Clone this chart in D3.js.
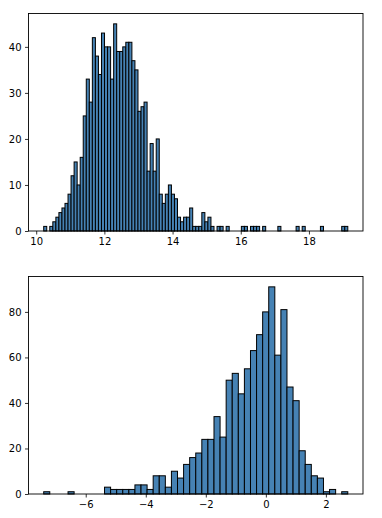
<!DOCTYPE html>
<html>
<head>
<meta charset="utf-8">
<script src="https://cdn.jsdelivr.net/npm/d3@7"></script>
<style>
  html, body { margin: 0; padding: 0; background: #fff; }
  svg { display: block; }
  .tick text { font-family: "DejaVu Sans", sans-serif; font-size: 10px; fill: #000; }
</style>
</head>
<body>
<svg id="chart" width="382" height="518"></svg>
<script>
// ---- Data ----
const topRange = [10.22, 19.14];          // histogram data range (100 bins)
const topCounts = [
  1,0,1,2,3,4,5,6,8,12,
  15,10,16,25,33,28,42,38,34,43,
  40,40,33,45,39,39,40,41,41,37,
  35,26,27,28,13,19,13,20,8,6,
  8,10,8,7,3,2,3,3,5,1,
  1,1,4,2,3,1,0,1,1,0,
  1,0,0,0,0,1,1,0,1,1,
  1,0,1,0,0,0,0,1,0,0,
  0,0,0,1,0,1,0,0,0,0,
  0,1,0,0,0,0,0,0,1,1
];
const topXTicks = [10, 12, 14, 16, 18];
const topYTicks = [0, 10, 20, 30, 40];

const botRange = [-7.40, 2.73];           // histogram data range (50 bins)
const botCounts = [
  1,0,0,0,1,0,0,0,0,0,
  3,2,2,2,2,4,4,2,8,8,
  3,10,7,13,16,18,24,24,34,25,
  50,53,44,55,63,70,80,91,61,81,
  47,41,19,13,8,7,1,2,0,1
];
const botXTicks = [-6, -4, -2, 0, 2];
const botYTicks = [0, 20, 40, 60, 80];

// ---- Layout ----
const svg = d3.select("#chart");
const L = 28.5, R = 363;
const panels = [
  { range: topRange, counts: topCounts, xt: topXTicks, yt: topYTicks, top: 13.5, bottom: 231 },
  { range: botRange, counts: botCounts, xt: botXTicks, yt: botYTicks, top: 276.5, bottom: 494 }
];

panels.forEach(p => {
  const n = p.counts.length;
  const w = (p.range[1] - p.range[0]) / n;
  const bins = p.counts.map((c, i) => ({ x0: p.range[0] + i * w, x1: p.range[0] + (i + 1) * w, c }));
  const pad = (p.range[1] - p.range[0]) * 0.05;
  const x = d3.scaleLinear().domain([p.range[0] - pad, p.range[1] + pad]).range([L, R]);
  const ymax = d3.max(p.counts) * 1.05;
  const y = d3.scaleLinear().domain([0, ymax]).range([p.bottom, p.top]);

  const g = svg.append("g");
  g.selectAll("rect.bar").data(bins.filter(b => b.c > 0)).join("rect")
    .attr("class", "bar")
    .attr("x", d => x(d.x0))
    .attr("width", d => x(d.x1) - x(d.x0))
    .attr("y", d => y(d.c))
    .attr("height", d => y(0) - y(d.c))
    .attr("fill", "steelblue")
    .attr("stroke", "#000")
    .attr("stroke-width", 1);

  // frame
  g.append("rect").attr("x", L).attr("y", p.top).attr("width", R - L).attr("height", p.bottom - p.top)
    .attr("fill", "none").attr("stroke", "#000").attr("stroke-width", 0.9);

  const fmt = d => d < 0 ? "\u2212" + Math.abs(d) : String(d);
  const xa = g.append("g").attr("transform", `translate(0,${p.bottom})`)
    .call(d3.axisBottom(x).tickValues(p.xt).tickSize(3.5).tickPadding(3.5).tickFormat(fmt));
  const ya = g.append("g").attr("transform", `translate(${L},0)`)
    .call(d3.axisLeft(y).tickValues(p.yt).tickSize(3.5).tickPadding(3.5).tickFormat(fmt));
  [xa, ya].forEach(a => {
    a.select(".domain").remove();
    a.selectAll(".tick line").attr("stroke", "#000").attr("stroke-width", 0.8);
  });
});
</script>
</body>
</html>
